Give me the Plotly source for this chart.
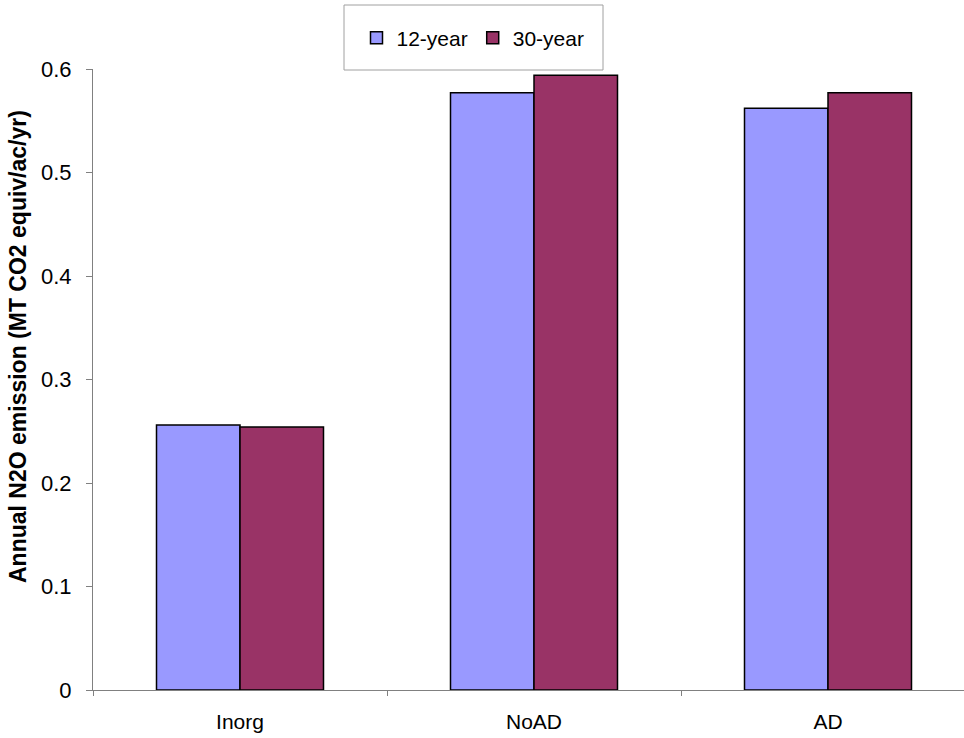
import plotly.graph_objects as go

categories = ["Inorg", "NoAD", "AD"]
series_names = ["12-year", "30-year"]
values_12yr = [0.256, 0.577, 0.562]
values_30yr = [0.254, 0.594, 0.577]
colors = ["#9999FF", "#993366"]
y_ticks = [0, 0.1, 0.2, 0.3, 0.4, 0.5, 0.6]
y_title = "Annual N2O emission (MT CO2 equiv/ac/yr)"

W, H = 964, 738
L, R, T, B = 93, 0, 69, 48
pw, ph = W - L - R, H - T - B

def px_x(x):
    return (x - L) / pw

def px_y(y):
    return (H - B - y) / ph

fig = go.Figure()
for name, vals, col in zip(series_names, [values_12yr, values_30yr], colors):
    fig.add_trace(go.Bar(
        x=categories, y=vals, name=name,
        marker=dict(color=col, line=dict(color="#000000", width=1.5)),
    ))

font_family = "Liberation Sans, Arial, sans-serif"

fig.update_layout(
    width=W, height=H,
    margin=dict(l=L, r=R, t=T, b=B, autoexpand=False),
    paper_bgcolor="white", plot_bgcolor="white",
    barmode="group", bargap=0.432, bargroupgap=0,
    font=dict(family=font_family, color="#000000"),
    showlegend=True,
    legend=dict(
        orientation="h", x=px_x(473), y=px_y(38),
        xanchor="center", yanchor="middle",
        font=dict(size=21), bgcolor="rgba(0,0,0,0)", borderwidth=0,
        itemwidth=30,
    ),
    xaxis=dict(
        range=[-0.5, -0.5 + pw / 294.0],
        showline=True, linecolor="#808080", linewidth=1,
        ticks="outside", tickson="boundaries", ticklen=5, tickcolor="#808080",
        tickfont=dict(size=21), showgrid=False, zeroline=False,
        ticklabelstandoff=13,
    ),
    yaxis=dict(
        range=[0, 0.6], tickvals=y_ticks, ticktext=[f"{v:g}" for v in y_ticks],
        showline=True, linecolor="#808080", linewidth=1,
        ticks="outside", ticklen=6, tickcolor="#808080",
        tickfont=dict(size=22), showgrid=False, zeroline=False,
        ticklabelstandoff=10,
    ),
    shapes=[dict(
        type="rect", xref="paper", yref="paper",
        x0=px_x(344), x1=px_x(603), y0=px_y(70), y1=px_y(5),
        line=dict(color="#A0A0A0", width=1), fillcolor="rgba(0,0,0,0)",
    )],
    annotations=[dict(
        text=f"<b>{y_title}</b>", textangle=-90,
        xref="paper", yref="paper", x=px_x(18), y=px_y(347),
        xanchor="center", yanchor="middle", showarrow=False,
        font=dict(size=23, family=font_family),
    )],
)

fig.write_html("out.html")
